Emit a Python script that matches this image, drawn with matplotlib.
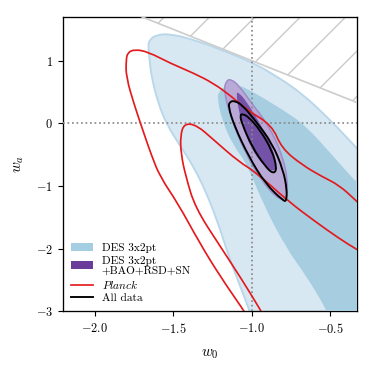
import numpy as np
import matplotlib
matplotlib.use("Agg")
import matplotlib.pyplot as plt
from matplotlib.path import Path
from matplotlib.patches import PathPatch, Patch
from matplotlib.lines import Line2D

plt.rcParams["font.family"] = "serif"
plt.rcParams["font.serif"] = ["cmr10"]
plt.rcParams["mathtext.fontset"] = "cm"
plt.rcParams["axes.formatter.use_mathtext"] = True
plt.rcParams["hatch.linewidth"] = 0.7

# contour outlines (w0, wa)
des95_w0 = [-1.65, -1.66, -1.65, -1.64, -1.60, -1.54, -1.45, -1.37, -1.30, -1.22, -1.14, -1.04,
            -1.00, -0.90, -0.10, -0.10, -0.34, -0.48, -0.69, -0.90, -1.00, -1.14, -1.35, -1.52, -1.61]
des95_wa = [1.33, 1.25, 1.00, 0.77, 0.35, -0.03, -0.38, -0.70, -1.05, -1.55, -2.18, -2.82,
            -3.10, -3.40, -3.40, -1.00, -0.38, 0.00, 0.50, 0.84, 0.97, 1.12, 1.32, 1.43, 1.41]

des68_w0 = [-1.21, -1.22, -1.19, -1.12, -1.03, -0.93, -0.78, -0.65, -0.52, -0.45, -0.10,
            -0.15, -0.34, -0.47, -0.66, -0.80, -0.99, -1.10, -1.17]
des68_wa = [0.50, 0.40, 0.05, -0.35, -0.65, -1.28, -2.00, -2.45, -3.00, -3.40, -3.40,
            -1.40, -0.93, -0.56, -0.03, 0.21, 0.50, 0.63, 0.60]

ext95_w0 = [-1.16, -1.18, -1.13, -1.04, -0.94, -0.84, -0.78, -0.77, -0.81, -0.89, -1.00, -1.085, -1.13]
ext95_wa = [0.69, 0.53, 0.05, -0.48, -0.91, -1.20, -1.22, -0.91, -0.48, -0.05, 0.32, 0.61, 0.70]

ext68_w0 = [-1.10, -1.085, -1.04, -0.96, -0.86, -0.84, -0.88, -0.96, -1.04, -1.08]
ext68_wa = [0.50, 0.21, -0.21, -0.59, -0.80, -0.64, -0.32, 0.05, 0.37, 0.48]

all95_w0 = [-1.14, -1.15, -1.11, -1.02, -0.915, -0.80, -0.78, -0.777, -0.80, -0.87, -0.98, -1.06, -1.11]
all95_wa = [0.345, 0.265, -0.05, -0.53, -0.96, -1.24, -1.24, -1.06, -0.75, -0.32, 0.05, 0.29, 0.36]

all68_w0 = [-1.075, -1.064, -1.00, -0.915, -0.862, -0.84, -0.872, -0.947, -1.022, -1.06]
all68_wa = [0.13, 0.00, -0.37, -0.69, -0.81, -0.72, -0.43, -0.11, 0.105, 0.15]

planck_a_w0 = [-1.00, -1.054, -1.20, -1.33, -1.47, -1.585, -1.64, -1.68, -1.745, -1.80, -1.80, -1.79,
               -1.745, -1.66, -1.52, -1.37, -1.245, -1.13, -1.03, -0.872, -0.81, -0.68, -0.553,
               -0.447, -0.341, -0.25]
planck_a_wa = [-3.20, -2.98, -2.45, -1.92, -1.28, -0.85, -0.50, -0.21, 0.27, 0.74, 1.01, 1.13,
               1.18, 1.14, 0.96, 0.80, 0.64, 0.43, 0.21, -0.03, -0.40, -0.665, -0.852,
               -0.985, -1.224, -1.45]

planck_b_w0 = [-0.90, -0.94, -1.075, -1.20, -1.36, -1.42, -1.45, -1.455, -1.43, -1.35, -1.245,
               -1.08, -0.98, -0.766, -0.596, -0.447, -0.33, -0.20]
planck_b_wa = [-3.20, -3.00, -2.45, -1.97, -1.35, -0.85, -0.50, -0.20, 0.00, -0.03, -0.26,
               -0.62, -0.77, -1.25, -1.57, -1.835, -2.02, -2.20]

prior_w0 = [-2.2, -0.33]
xticks = [-2.0, -1.5, -1.0, -0.5]
yticks = [-3, -2, -1, 0, 1]


def smooth_path(xs, ys, closed=True):
    pts = np.column_stack([xs, ys])
    if closed:
        mids = (pts + np.roll(pts, -1, axis=0)) / 2
        verts = [mids[-1]]
        codes = [Path.MOVETO]
        for i in range(len(pts)):
            verts += [pts[i], mids[i]]
            codes += [Path.CURVE3, Path.CURVE3]
        verts.append(mids[-1])
        codes.append(Path.CLOSEPOLY)
    else:
        mids = (pts[:-1] + pts[1:]) / 2
        verts = [pts[0], mids[0]]
        codes = [Path.MOVETO, Path.LINETO]
        for i in range(1, len(pts) - 1):
            verts += [pts[i], mids[i]]
            codes += [Path.CURVE3, Path.CURVE3]
        verts.append(pts[-1])
        codes.append(Path.LINETO)
    return Path(verts, codes)


fig = plt.figure(figsize=(2.75, 2.75), dpi=136)
ax = fig.add_axes([0.169, 0.168, 0.786, 0.787])

# excluded region w0 + wa > 0
pw = np.array(prior_w0)
ax.fill_between(pw, -pw, 2.0, facecolor="none", edgecolor="#c8c8c8", hatch="/", lw=0, zorder=1)
ax.axline((0, 0), slope=-1, color="#cdcdcd", lw=0.9, zorder=3.5)

ax.add_patch(PathPatch(smooth_path(des95_w0, des95_wa), facecolor="#d8e8f2",
                       edgecolor="#b9d7ea", lw=1.0, zorder=2))
ax.add_patch(PathPatch(smooth_path(des68_w0, des68_wa), facecolor="#a7cde1",
                       edgecolor="none", zorder=3))
ax.add_patch(PathPatch(smooth_path(ext95_w0, ext95_wa), facecolor="#b8a9d6",
                       edgecolor="#a08bc9", lw=0.8, zorder=4))
ax.add_patch(PathPatch(smooth_path(ext68_w0, ext68_wa), facecolor="#7452a8",
                       edgecolor="none", zorder=4.2))

ax.axvline(-1, color="#888888", ls=":", lw=0.9, zorder=4.5)
ax.axhline(0, color="#888888", ls=":", lw=0.9, zorder=4.5)

ax.add_patch(PathPatch(smooth_path(planck_a_w0, planck_a_wa, closed=False), facecolor="none",
                       edgecolor="#e3191c", lw=0.9, zorder=5))
ax.add_patch(PathPatch(smooth_path(planck_b_w0, planck_b_wa, closed=False), facecolor="none",
                       edgecolor="#e3191c", lw=0.9, zorder=5))
ax.add_patch(PathPatch(smooth_path(all95_w0, all95_wa), facecolor="none",
                       edgecolor="black", lw=1.0, zorder=6))
ax.add_patch(PathPatch(smooth_path(all68_w0, all68_wa), facecolor="none",
                       edgecolor="black", lw=1.0, zorder=6))

ax.set_xlim(-2.2, -0.33)
ax.set_ylim(-3, 1.7)
ax.set_xticks(xticks)
ax.set_yticks(yticks)
ax.tick_params(direction="out", length=2.5, width=0.6, labelsize=6.5, pad=3)
for s in ax.spines.values():
    s.set_linewidth(0.7)
ax.set_xlabel("$w_0$", fontsize=8, labelpad=6)
ax.set_ylabel("$w_a$", fontsize=8, labelpad=5)

handles = [Patch(facecolor="#a6cee3", edgecolor="none"),
           Patch(facecolor="#6a3d9a", edgecolor="none"),
           Line2D([], [], color="#e3191c", lw=0.9),
           Line2D([], [], color="black", lw=1.0)]
labels = ["DES 3x2pt", "DES 3x2pt\n+BAO+RSD+SN", r"$\mathit{Planck}$", "All data"]
leg = ax.legend(handles, labels, loc="lower left", frameon=False, fontsize=6,
                handlelength=1.9, handletextpad=0.8, labelspacing=0.22, borderaxespad=0.3)
for t in leg.get_texts():
    t.set_linespacing(1.0)

fig.savefig("out.png", dpi=136)
